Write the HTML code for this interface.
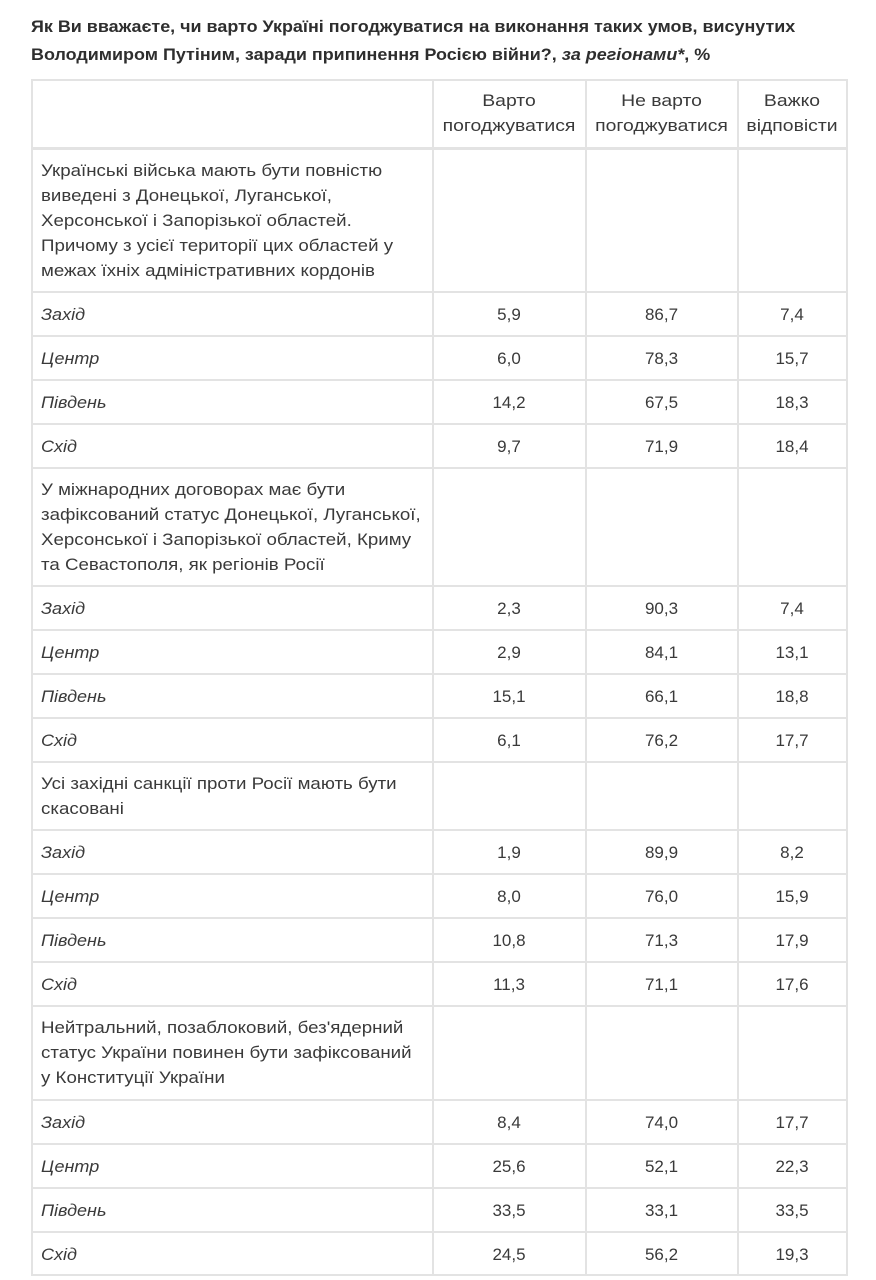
<!DOCTYPE html>
<html><head><meta charset="utf-8">
<style>
html,body{margin:0;padding:0;background:#fff;}
body{width:876px;height:1280px;position:relative;overflow:hidden;font-family:"Liberation Sans","DejaVu Sans",sans-serif;color:#3a3a3a;}
.h{position:absolute;left:31px;width:817px;height:2px;background:#e3e3e3;}
.v{position:absolute;top:79px;height:1197px;width:2px;background:#e3e3e3;}
.t{position:absolute;white-space:nowrap;}
.title{left:31px;top:13px;font-size:17px;font-weight:bold;line-height:28px;color:#2e2e2e;transform:scaleX(1.055);transform-origin:0 0;}
.q{left:41px;font-size:17px;line-height:25px;transform:scaleX(1.1);transform-origin:0 0;}
.hd{position:absolute;top:88px;font-size:17px;line-height:25px;text-align:center;transform:scaleX(1.14);transform-origin:50% 0;}
.r{position:absolute;left:41px;height:44px;line-height:44px;font-size:17px;font-style:italic;transform:scaleX(1.06);transform-origin:0 0;}
.n{position:absolute;height:44px;line-height:44px;font-size:17px;text-align:center;}
.c1{left:433px;width:152px;}
.c2{left:586px;width:151px;}
.c3{left:738px;width:108px;}
</style></head><body>
<div class="t title">Як Ви вважаєте, чи варто Україні погоджуватися на виконання таких умов, висунутих<br>Володимиром Путіним, заради припинення Росією війни?, <i>за регіонами*</i>, %</div>

<div class="h" style="top:79px"></div>
<div class="h" style="top:147px;height:3px"></div>
<div class="h" style="top:291px"></div>
<div class="h" style="top:335px"></div>
<div class="h" style="top:379px"></div>
<div class="h" style="top:423px"></div>
<div class="h" style="top:467px"></div>
<div class="h" style="top:585px"></div>
<div class="h" style="top:629px"></div>
<div class="h" style="top:673px"></div>
<div class="h" style="top:717px"></div>
<div class="h" style="top:761px"></div>
<div class="h" style="top:829px"></div>
<div class="h" style="top:873px"></div>
<div class="h" style="top:917px"></div>
<div class="h" style="top:961px"></div>
<div class="h" style="top:1005px"></div>
<div class="h" style="top:1099px"></div>
<div class="h" style="top:1143px"></div>
<div class="h" style="top:1187px"></div>
<div class="h" style="top:1231px"></div>
<div class="h" style="top:1274px"></div>

<div class="v" style="left:31px"></div>
<div class="v" style="left:432px"></div>
<div class="v" style="left:585px"></div>
<div class="v" style="left:737px"></div>
<div class="v" style="left:846px"></div>

<div class="hd c1">Варто<br>погоджуватися</div>
<div class="hd c2">Не варто<br>погоджуватися</div>
<div class="hd c3">Важко<br>відповісти</div>

<div class="t q" style="top:158px">Українські війська мають бути повністю<br>виведені з Донецької, Луганської,<br>Херсонської і Запорізької областей.<br>Причому з усієї території цих областей у<br>межах їхніх адміністративних кордонів</div>
<div class="t q" style="top:477px">У міжнародних договорах має бути<br>зафіксований статус Донецької, Луганської,<br>Херсонської і Запорізької областей, Криму<br>та Севастополя, як регіонів Росії</div>
<div class="t q" style="top:771px">Усі західні санкції проти Росії мають бути<br>скасовані</div>
<div class="t q" style="top:1015px">Нейтральний, позаблоковий, без'ядерний<br>статус України повинен бути зафіксований<br>у Конституції України</div>

<!-- Q1 -->
<div class="r" style="top:293px">Захід</div><div class="n c1" style="top:293px">5,9</div><div class="n c2" style="top:293px">86,7</div><div class="n c3" style="top:293px">7,4</div>
<div class="r" style="top:337px">Центр</div><div class="n c1" style="top:337px">6,0</div><div class="n c2" style="top:337px">78,3</div><div class="n c3" style="top:337px">15,7</div>
<div class="r" style="top:381px">Південь</div><div class="n c1" style="top:381px">14,2</div><div class="n c2" style="top:381px">67,5</div><div class="n c3" style="top:381px">18,3</div>
<div class="r" style="top:425px">Схід</div><div class="n c1" style="top:425px">9,7</div><div class="n c2" style="top:425px">71,9</div><div class="n c3" style="top:425px">18,4</div>
<!-- Q2 -->
<div class="r" style="top:587px">Захід</div><div class="n c1" style="top:587px">2,3</div><div class="n c2" style="top:587px">90,3</div><div class="n c3" style="top:587px">7,4</div>
<div class="r" style="top:631px">Центр</div><div class="n c1" style="top:631px">2,9</div><div class="n c2" style="top:631px">84,1</div><div class="n c3" style="top:631px">13,1</div>
<div class="r" style="top:675px">Південь</div><div class="n c1" style="top:675px">15,1</div><div class="n c2" style="top:675px">66,1</div><div class="n c3" style="top:675px">18,8</div>
<div class="r" style="top:719px">Схід</div><div class="n c1" style="top:719px">6,1</div><div class="n c2" style="top:719px">76,2</div><div class="n c3" style="top:719px">17,7</div>
<!-- Q3 -->
<div class="r" style="top:831px">Захід</div><div class="n c1" style="top:831px">1,9</div><div class="n c2" style="top:831px">89,9</div><div class="n c3" style="top:831px">8,2</div>
<div class="r" style="top:875px">Центр</div><div class="n c1" style="top:875px">8,0</div><div class="n c2" style="top:875px">76,0</div><div class="n c3" style="top:875px">15,9</div>
<div class="r" style="top:919px">Південь</div><div class="n c1" style="top:919px">10,8</div><div class="n c2" style="top:919px">71,3</div><div class="n c3" style="top:919px">17,9</div>
<div class="r" style="top:963px">Схід</div><div class="n c1" style="top:963px">11,3</div><div class="n c2" style="top:963px">71,1</div><div class="n c3" style="top:963px">17,6</div>
<!-- Q4 -->
<div class="r" style="top:1101px">Захід</div><div class="n c1" style="top:1101px">8,4</div><div class="n c2" style="top:1101px">74,0</div><div class="n c3" style="top:1101px">17,7</div>
<div class="r" style="top:1145px">Центр</div><div class="n c1" style="top:1145px">25,6</div><div class="n c2" style="top:1145px">52,1</div><div class="n c3" style="top:1145px">22,3</div>
<div class="r" style="top:1189px">Південь</div><div class="n c1" style="top:1189px">33,5</div><div class="n c2" style="top:1189px">33,1</div><div class="n c3" style="top:1189px">33,5</div>
<div class="r" style="top:1233px">Схід</div><div class="n c1" style="top:1233px">24,5</div><div class="n c2" style="top:1233px">56,2</div><div class="n c3" style="top:1233px">19,3</div>
</body></html>
